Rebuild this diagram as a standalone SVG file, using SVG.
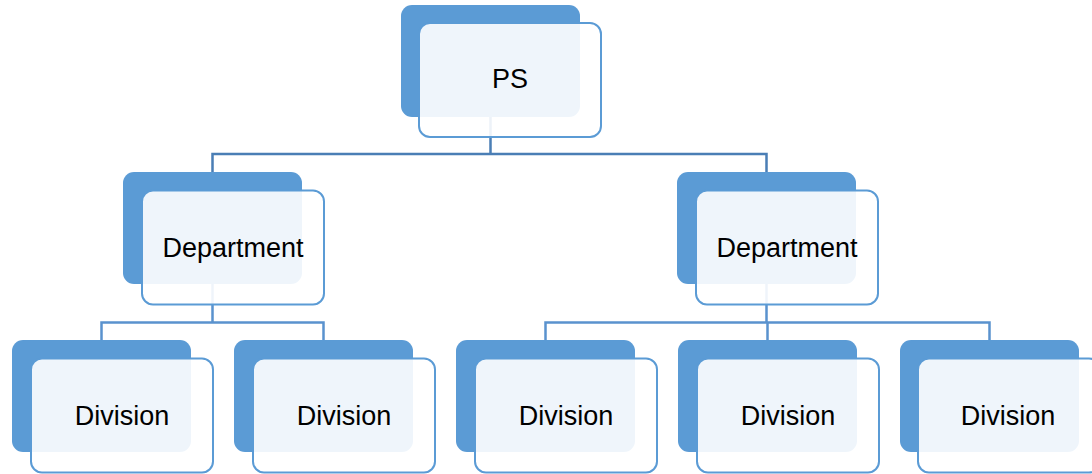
<svg xmlns="http://www.w3.org/2000/svg" width="1092" height="474" viewBox="0 0 1092 474">
<style>
.back{fill:#5B9BD5;}
.front{fill:#FFFFFF;fill-opacity:0.9;stroke:#5B9BD5;stroke-width:2;}
.lbl{font-family:"Liberation Sans",Arial,sans-serif;font-size:27px;fill:#000;text-anchor:middle;}
.c1{fill:none;stroke:#4A7EB5;stroke-width:2.5;}
.c2{fill:none;stroke:#5A92CE;stroke-width:2.5;}
</style>
<rect width="1092" height="474" fill="#FFFFFF"/>
<g id="connectors">
<path class="c1" d="M490.5 117 V154 M212.5 172 V154 H766.5 V172"/>
<path class="c2" d="M212.5 284 V322.5 M101.5 340 V322.5 H323.5 V340"/>
<path class="c2" d="M766.5 284 V322.5 M545.5 340 V322.5 H989.5 V340 M767.5 322.5 V340"/>
</g>
<g id="ps">
<rect class="back" x="401" y="5" width="179" height="112" rx="11"/>
<rect class="front" x="419" y="23" width="182" height="114" rx="11"/>
<text class="lbl" x="510" y="88">PS</text>
</g>
<g id="dept1">
<rect class="back" x="123" y="172" width="179" height="112" rx="11"/>
<rect class="front" x="142" y="190.5" width="182" height="114" rx="11"/>
<text class="lbl" x="233" y="256.5">Department</text>
</g>
<g id="dept2">
<rect class="back" x="677" y="172" width="179" height="112" rx="11"/>
<rect class="front" x="696" y="190.5" width="182" height="114" rx="11"/>
<text class="lbl" x="787" y="256.5">Department</text>
</g>
<g id="div1">
<rect class="back" x="12" y="340" width="179" height="112" rx="11"/>
<rect class="front" x="31" y="358.5" width="182" height="114" rx="11"/>
<text class="lbl" x="122" y="424.5">Division</text>
</g>
<g id="div2">
<rect class="back" x="234" y="340" width="179" height="112" rx="11"/>
<rect class="front" x="253" y="358.5" width="182" height="114" rx="11"/>
<text class="lbl" x="344" y="424.5">Division</text>
</g>
<g id="div3">
<rect class="back" x="456" y="340" width="179" height="112" rx="11"/>
<rect class="front" x="475" y="358.5" width="182" height="114" rx="11"/>
<text class="lbl" x="566" y="424.5">Division</text>
</g>
<g id="div4">
<rect class="back" x="678" y="340" width="179" height="112" rx="11"/>
<rect class="front" x="697" y="358.5" width="182" height="114" rx="11"/>
<text class="lbl" x="788" y="424.5">Division</text>
</g>
<g id="div5">
<rect class="back" x="900" y="340" width="179" height="112" rx="11"/>
<rect class="front" x="918" y="358.5" width="182" height="114" rx="11"/>
<text class="lbl" x="1008" y="424.5">Division</text>
</g>
</svg>
